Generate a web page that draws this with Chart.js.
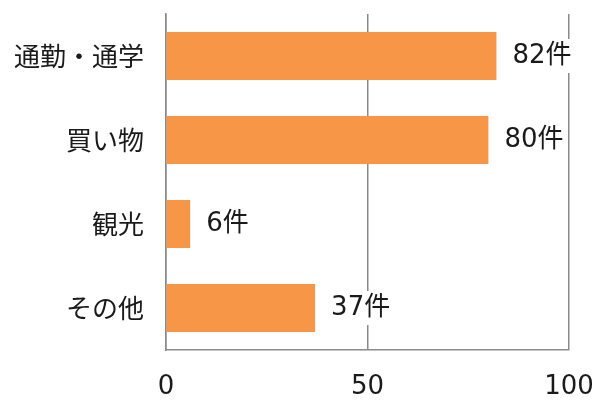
<!DOCTYPE html>
<html>
<head>
<meta charset="utf-8">
<script src="https://cdn.jsdelivr.net/npm/chart.js@4/dist/chart.umd.min.js"></script>
<style>
  html, body { margin: 0; padding: 0; background: #fff; }
  #wrap { width: 596px; height: 401px; }
</style>
</head>
<body>
<div id="wrap"><canvas id="chart" width="596" height="401"></canvas></div>
<script>
// ── Data ──────────────────────────────────────
const categories = ['通勤・通学', '買い物', '観光', 'その他'];
const counts     = [82, 80, 6, 37];
const unitLabel  = '件';
const xTicks     = [0, 50, 100];

const FONT = '"DejaVu Sans", "Noto Sans CJK JP", sans-serif';
const CJK  = '"Noto Sans CJK JP", sans-serif';

// ── Value labels with white backing ───────────
const valueLabels = {
  id: 'valueLabels',
  afterDatasetsDraw(chart) {
    const ctx  = chart.ctx;
    const meta = chart.getDatasetMeta(0);
    ctx.save();
    ctx.font = '26px ' + FONT;
    ctx.textBaseline = 'middle';
    ctx.textAlign = 'left';
    meta.data.forEach((bar, i) => {
      const text = counts[i] + unitLabel;
      const x = bar.x + 16;
      const w = ctx.measureText(text).width;
      ctx.fillStyle = '#fff';
      ctx.fillRect(x - 2, bar.y - 17, w + 4, 34);
      ctx.fillStyle = '#1a1a1a';
      ctx.fillText(text, x, bar.y);
    });
    ctx.restore();
  }
};

new Chart(document.getElementById('chart').getContext('2d'), {
  type: 'bar',
  data: {
    labels: categories,
    datasets: [{
      data:            counts,
      backgroundColor: '#F79646',
      borderWidth:     0,
      barPercentage:   0.57,
      categoryPercentage: 1,
    }]
  },
  options: {
    indexAxis: 'y',
    responsive: false,
    animation: false,
    layout: { padding: { top: 14, right: 27, left: 0, bottom: 0 } },
    plugins: {
      legend:  { display: false },
      tooltip: { enabled: false }
    },
    scales: {
      x: {
        min: 0,
        max: 100,
        afterBuildTicks: s => { s.ticks = xTicks.map(v => ({ value: v })); },
        afterFit: s => {
          s.height = 51;
          s.paddingLeft = 0;
          s.paddingRight = 0;
        },
        grid:   { color: '#8a8a8a', lineWidth: 1.5, drawTicks: false },
        border: { display: true, color: '#8a8a8a', width: 1.5 },
        ticks:  { color: '#1a1a1a', font: { family: FONT, size: 26 }, padding: 22, maxRotation: 0 }
      },
      y: {
        afterFit: s => {
          s.width = 166;
          s.paddingTop = 0;
          s.paddingBottom = 0;
        },
        grid:   { display: false },
        border: { display: true, color: '#8a8a8a', width: 1.5 },
        ticks:  { color: '#1a1a1a', font: { family: CJK, size: 26 }, padding: 14 }
      }
    }
  },
  plugins: [valueLabels]
});
</script>
</body>
</html>
